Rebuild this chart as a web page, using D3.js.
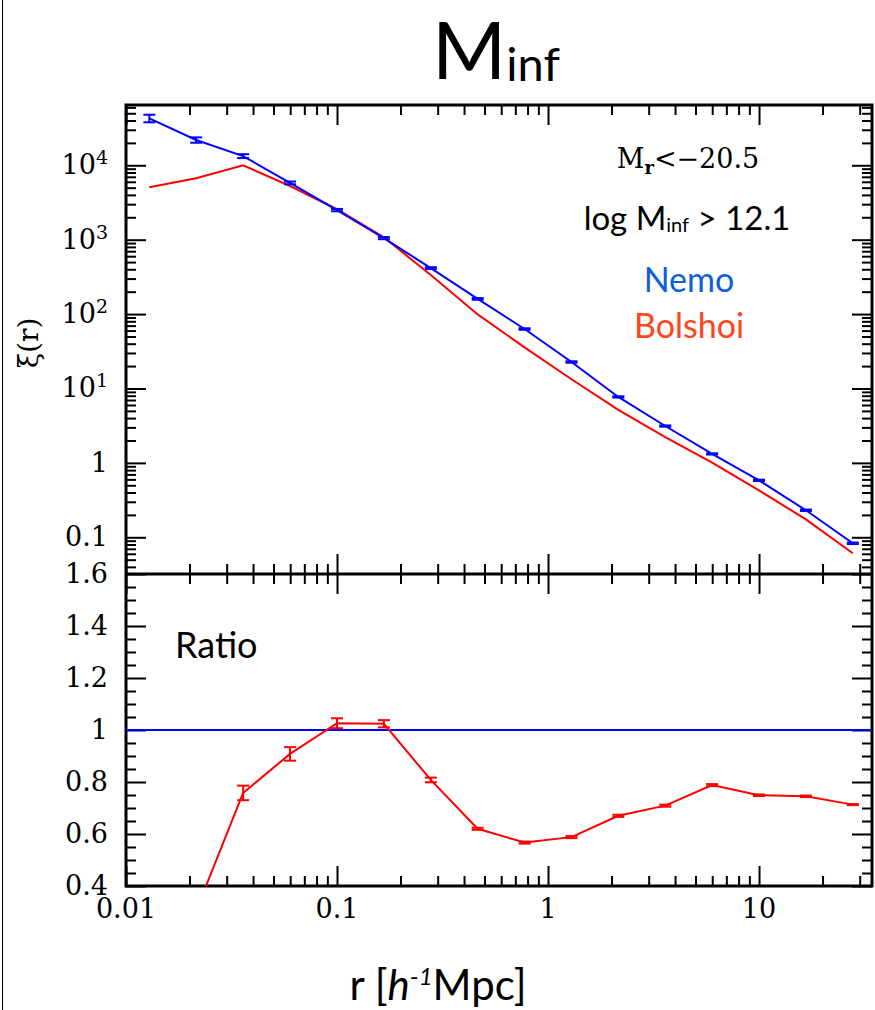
<!DOCTYPE html>
<html>
<head>
<meta charset="utf-8">
<script src="https://cdn.jsdelivr.net/npm/d3@7"></script>
<style>
  body { margin: 0; background: #fff; }
  svg { display: block; }
</style>
</head>
<body>
<script>
const width = 875,
      height = 1010

// bin centres in r [h^-1 Mpc]
const radii = [0.0129, 0.0215, 0.0359, 0.0599, 0.1, 0.1668, 0.2783, 0.4642,
               0.7743, 1.292, 2.154, 3.594, 5.995, 10, 16.68, 27.83]

// xi(r) for Nemo (blue, with errors) and Bolshoi (red)
const nemoXi = [42800, 21900, 13300, 5800, 2500, 1050, 415, 160,
                63, 22.7, 7.7, 3.13, 1.32, 0.583, 0.231, 0.083]
const nemoErr = [5000, 1800, 800, 250, 90, 35, 12, 4,
                 1.5, 0.5, 0.15, 0.06, 0.025, 0.012, 0.005, 0.002]
const bolshoiXi = [5060, 6680, 10000, 5270, 2565, 1075, 335, 99,
                   35.7, 13.3, 5.16, 2.22, 1.01, 0.427, 0.174, 0.061]

// ratio panel
const ratio = [0.118, 0.305, 0.758, 0.908, 1.026, 1.024, 0.808, 0.620,
               0.567, 0.588, 0.670, 0.709, 0.788, 0.749, 0.745, 0.713]
const ratioErr = [0.03, 0.03, 0.028, 0.026, 0.019, 0.014, 0.009, 0.004,
                  0.004, 0.004, 0.004, 0.004, 0.004, 0.003, 0.003, 0.002]

const xMajor = [0.01, 0.1, 1, 10]
const topMajor = [0.1, 1, 10, 100, 1000, 10000]
const topLabels = ['0.1', '1', '10|1', '10|2', '10|3', '10|4']
const botMajor = [0.4, 0.6, 0.8, 1, 1.2, 1.4, 1.6]
const botLabels = ['0.4', '0.6', '0.8', '1', '1.2', '1.4', '1.6']

const pLeft = 126, pRight = 872, pTop = 105, pMid = 574, pBottom = 886

const x = d3.scaleLog().domain([0.01, 34.31]).range([pLeft, pRight])
const yTop = d3.scaleLog().domain([0.0321, 64600]).range([pMid, pTop])
const yBot = d3.scaleLinear().domain([0.4, 1.6]).range([pBottom, pMid])

// minor ticks for log scales
function logMinor(lo, hi) {
    const out = []
    for (let e = Math.floor(Math.log10(lo)); e <= Math.ceil(Math.log10(hi)); e++) {
        for (let m = 2; m <= 9; m++) {
            const v = m * Math.pow(10, e)
            if (v > lo && v < hi) out.push(v)
        }
    }
    return out
}
const xMinor = logMinor(0.01, 34.31)
const topMinor = logMinor(0.0321, 64600)
const botMinor = d3.range(0.45, 1.6, 0.05).filter(v => Math.abs(v * 5 - Math.round(v * 5)) > 0.01)

const svg = d3.select('body').append('svg')
    .attr('width', width)
    .attr('height', height)

const serif = 'DejaVu Serif, serif'
const sans = 'Lato, Open Sans, sans-serif'

// page frame line on the left
svg.append('line')
    .attr('x1', 2.5).attr('x2', 2.5)
    .attr('y1', 0).attr('y2', height)
    .style('stroke', '#000')
    .style('stroke-width', 1)

// clip paths
const defs = svg.append('defs')
defs.append('clipPath').attr('id', 'clipTop').append('rect')
    .attr('x', pLeft).attr('y', pTop).attr('width', pRight - pLeft).attr('height', pMid - pTop)
defs.append('clipPath').attr('id', 'clipBot').append('rect')
    .attr('x', pLeft).attr('y', pMid).attr('width', pRight - pLeft).attr('height', pBottom - pMid)

// ticks, drawn with d3 axes pointing inwards
function addTicks(axisFn, scale, values, len, tx, ty) {
    const g = svg.append('g')
        .attr('transform', `translate(${tx},${ty})`)
        .call(axisFn(scale).tickValues(values).tickSize(-len).tickFormat(''))
    g.select('.domain').remove()
    g.selectAll('line').style('stroke', '#000').style('stroke-width', 2)
}

const major = 20, minor = 10
// x ticks on all four horizontal edges
addTicks(d3.axisTop, x, xMajor, major, 0, pTop)
addTicks(d3.axisTop, x, xMinor, minor, 0, pTop)
addTicks(d3.axisBottom, x, xMajor, major, 0, pMid)
addTicks(d3.axisBottom, x, xMinor, minor, 0, pMid)
addTicks(d3.axisTop, x, xMajor, major, 0, pMid)
addTicks(d3.axisTop, x, xMinor, minor, 0, pMid)
addTicks(d3.axisBottom, x, xMajor, major, 0, pBottom)
addTicks(d3.axisBottom, x, xMinor, minor, 0, pBottom)
// y ticks top panel
addTicks(d3.axisLeft, yTop, topMajor, major, pLeft, 0)
addTicks(d3.axisLeft, yTop, topMinor, minor, pLeft, 0)
addTicks(d3.axisRight, yTop, topMajor, major, pRight, 0)
addTicks(d3.axisRight, yTop, topMinor, minor, pRight, 0)
// y ticks bottom panel
addTicks(d3.axisLeft, yBot, botMajor, major, pLeft, 0)
addTicks(d3.axisLeft, yBot, botMinor, minor, pLeft, 0)
addTicks(d3.axisRight, yBot, botMajor, major, pRight, 0)
addTicks(d3.axisRight, yBot, botMinor, minor, pRight, 0)

// frames
svg.append('rect')
    .attr('x', pLeft).attr('y', pTop)
    .attr('width', pRight - pLeft).attr('height', pBottom - pTop)
    .style('fill', 'none').style('stroke', '#000').style('stroke-width', 3)
svg.append('line')
    .attr('x1', pLeft).attr('x2', pRight)
    .attr('y1', pMid).attr('y2', pMid)
    .style('stroke', '#000').style('stroke-width', 3)

// tick labels
const fs = 27
topMajor.forEach((v, i) => {
    const parts = topLabels[i].split('|')
    const t = svg.append('text')
        .attr('x', 108).attr('y', yTop(v) + 9)
        .attr('text-anchor', 'end')
        .style('font-family', serif).style('font-size', fs + 'px')
    t.append('tspan').text(parts[0])
    if (parts[1]) {
        t.append('tspan').attr('dy', -10).style('font-size', '19px').text(parts[1])
    }
})
botMajor.forEach((v, i) => {
    svg.append('text')
        .attr('x', 108).attr('y', yBot(v) + 9)
        .attr('text-anchor', 'end')
        .style('font-family', serif).style('font-size', fs + 'px')
        .text(botLabels[i])
})
xMajor.forEach(v => {
    svg.append('text')
        .attr('x', x(v)).attr('y', 918)
        .attr('text-anchor', 'middle')
        .style('font-family', serif).style('font-size', fs + 'px')
        .text(v)
})

// top panel data
const topG = svg.append('g').attr('clip-path', 'url(#clipTop)')
const nemo = radii.map((r, i) => ({ r: r, v: nemoXi[i], e: nemoErr[i] }))
const bols = radii.map((r, i) => ({ r: r, v: bolshoiXi[i] }))
const lineTop = d3.line().x(d => x(d.r)).y(d => yTop(d.v))

topG.append('path').datum(bols).attr('d', lineTop)
    .style('fill', 'none').style('stroke', '#ff0000').style('stroke-width', 2)
topG.append('path').datum(nemo).attr('d', lineTop)
    .style('fill', 'none').style('stroke', '#0000ff').style('stroke-width', 2)

function errorBars(g, data, yScale, color) {
    const cap = 6
    const eb = g.selectAll(null).data(data).enter().append('g')
        .style('stroke', color).style('stroke-width', 2)
    eb.append('line')
        .attr('x1', d => x(d.r)).attr('x2', d => x(d.r))
        .attr('y1', d => yScale(d.v - d.e)).attr('y2', d => yScale(d.v + d.e))
    eb.append('line')
        .attr('x1', d => x(d.r) - cap).attr('x2', d => x(d.r) + cap)
        .attr('y1', d => yScale(d.v - d.e)).attr('y2', d => yScale(d.v - d.e))
    eb.append('line')
        .attr('x1', d => x(d.r) - cap).attr('x2', d => x(d.r) + cap)
        .attr('y1', d => yScale(d.v + d.e)).attr('y2', d => yScale(d.v + d.e))
}
errorBars(topG, nemo, yTop, '#0000ff')

// ratio panel
const botG = svg.append('g').attr('clip-path', 'url(#clipBot)')
botG.append('line')
    .attr('x1', pLeft).attr('x2', pRight)
    .attr('y1', yBot(1)).attr('y2', yBot(1))
    .style('stroke', '#0000ff').style('stroke-width', 2)
const rat = radii.map((r, i) => ({ r: r, v: ratio[i], e: ratioErr[i] }))
botG.append('path').datum(rat)
    .attr('d', d3.line().x(d => x(d.r)).y(d => yBot(d.v)))
    .style('fill', 'none').style('stroke', '#ff0000').style('stroke-width', 2)
errorBars(botG, rat, yBot, '#ff0000')

// title
const title = svg.append('text')
    .attr('x', 496).attr('y', 79)
    .attr('text-anchor', 'middle')
    .style('font-family', sans).style('font-size', '80px')
title.append('tspan').text('M')
title.append('tspan').attr('dy', 2).style('font-size', '47px').text('inf')

// y axis label
svg.append('text')
    .attr('transform', 'translate(38,343) rotate(-90)')
    .attr('text-anchor', 'middle')
    .style('font-family', serif).style('font-size', '28px')
    .text('ξ(r)')

// annotations
const ann1 = svg.append('text')
    .attr('x', 688).attr('y', 168)
    .attr('text-anchor', 'middle')
    .style('font-family', serif).style('font-size', '27px')
ann1.append('tspan').text('M')
ann1.append('tspan').attr('dy', 6).style('font-size', '18px').style('font-weight', 'bold').text('r')
ann1.append('tspan').attr('dy', -6).text('<−20.5')

const ann2 = svg.append('text')
    .attr('x', 687).attr('y', 230)
    .attr('text-anchor', 'middle')
    .style('font-family', sans).style('font-size', '33px')
ann2.append('tspan').text('log M')
ann2.append('tspan').attr('dy', 2).style('font-size', '20px').text('inf')
ann2.append('tspan').attr('dy', -2).text(' > 12.1')

svg.append('text')
    .attr('x', 689).attr('y', 292)
    .attr('text-anchor', 'middle')
    .style('font-family', sans).style('font-size', '34px')
    .style('fill', '#0d5fdb')
    .text('Nemo')
svg.append('text')
    .attr('x', 689).attr('y', 338)
    .attr('text-anchor', 'middle')
    .style('font-family', sans).style('font-size', '34px')
    .style('fill', '#ff4420')
    .text('Bolshoi')

svg.append('text')
    .attr('x', 175).attr('y', 658)
    .style('font-family', sans).style('font-size', '36px')
    .text('Ratio')

// x axis title
const xt = svg.append('text')
    .attr('x', 438).attr('y', 1000)
    .attr('text-anchor', 'middle')
    .style('font-family', sans).style('font-size', '42px')
xt.append('tspan').text('r [')
xt.append('tspan').style('font-style', 'italic').text('h')
xt.append('tspan').attr('dy', -15).style('font-size', '24px').text('-')
xt.append('tspan').style('font-size', '24px').style('font-style', 'italic').text('1')
xt.append('tspan').attr('dy', 15).text('Mpc]')
</script>
</body>
</html>
